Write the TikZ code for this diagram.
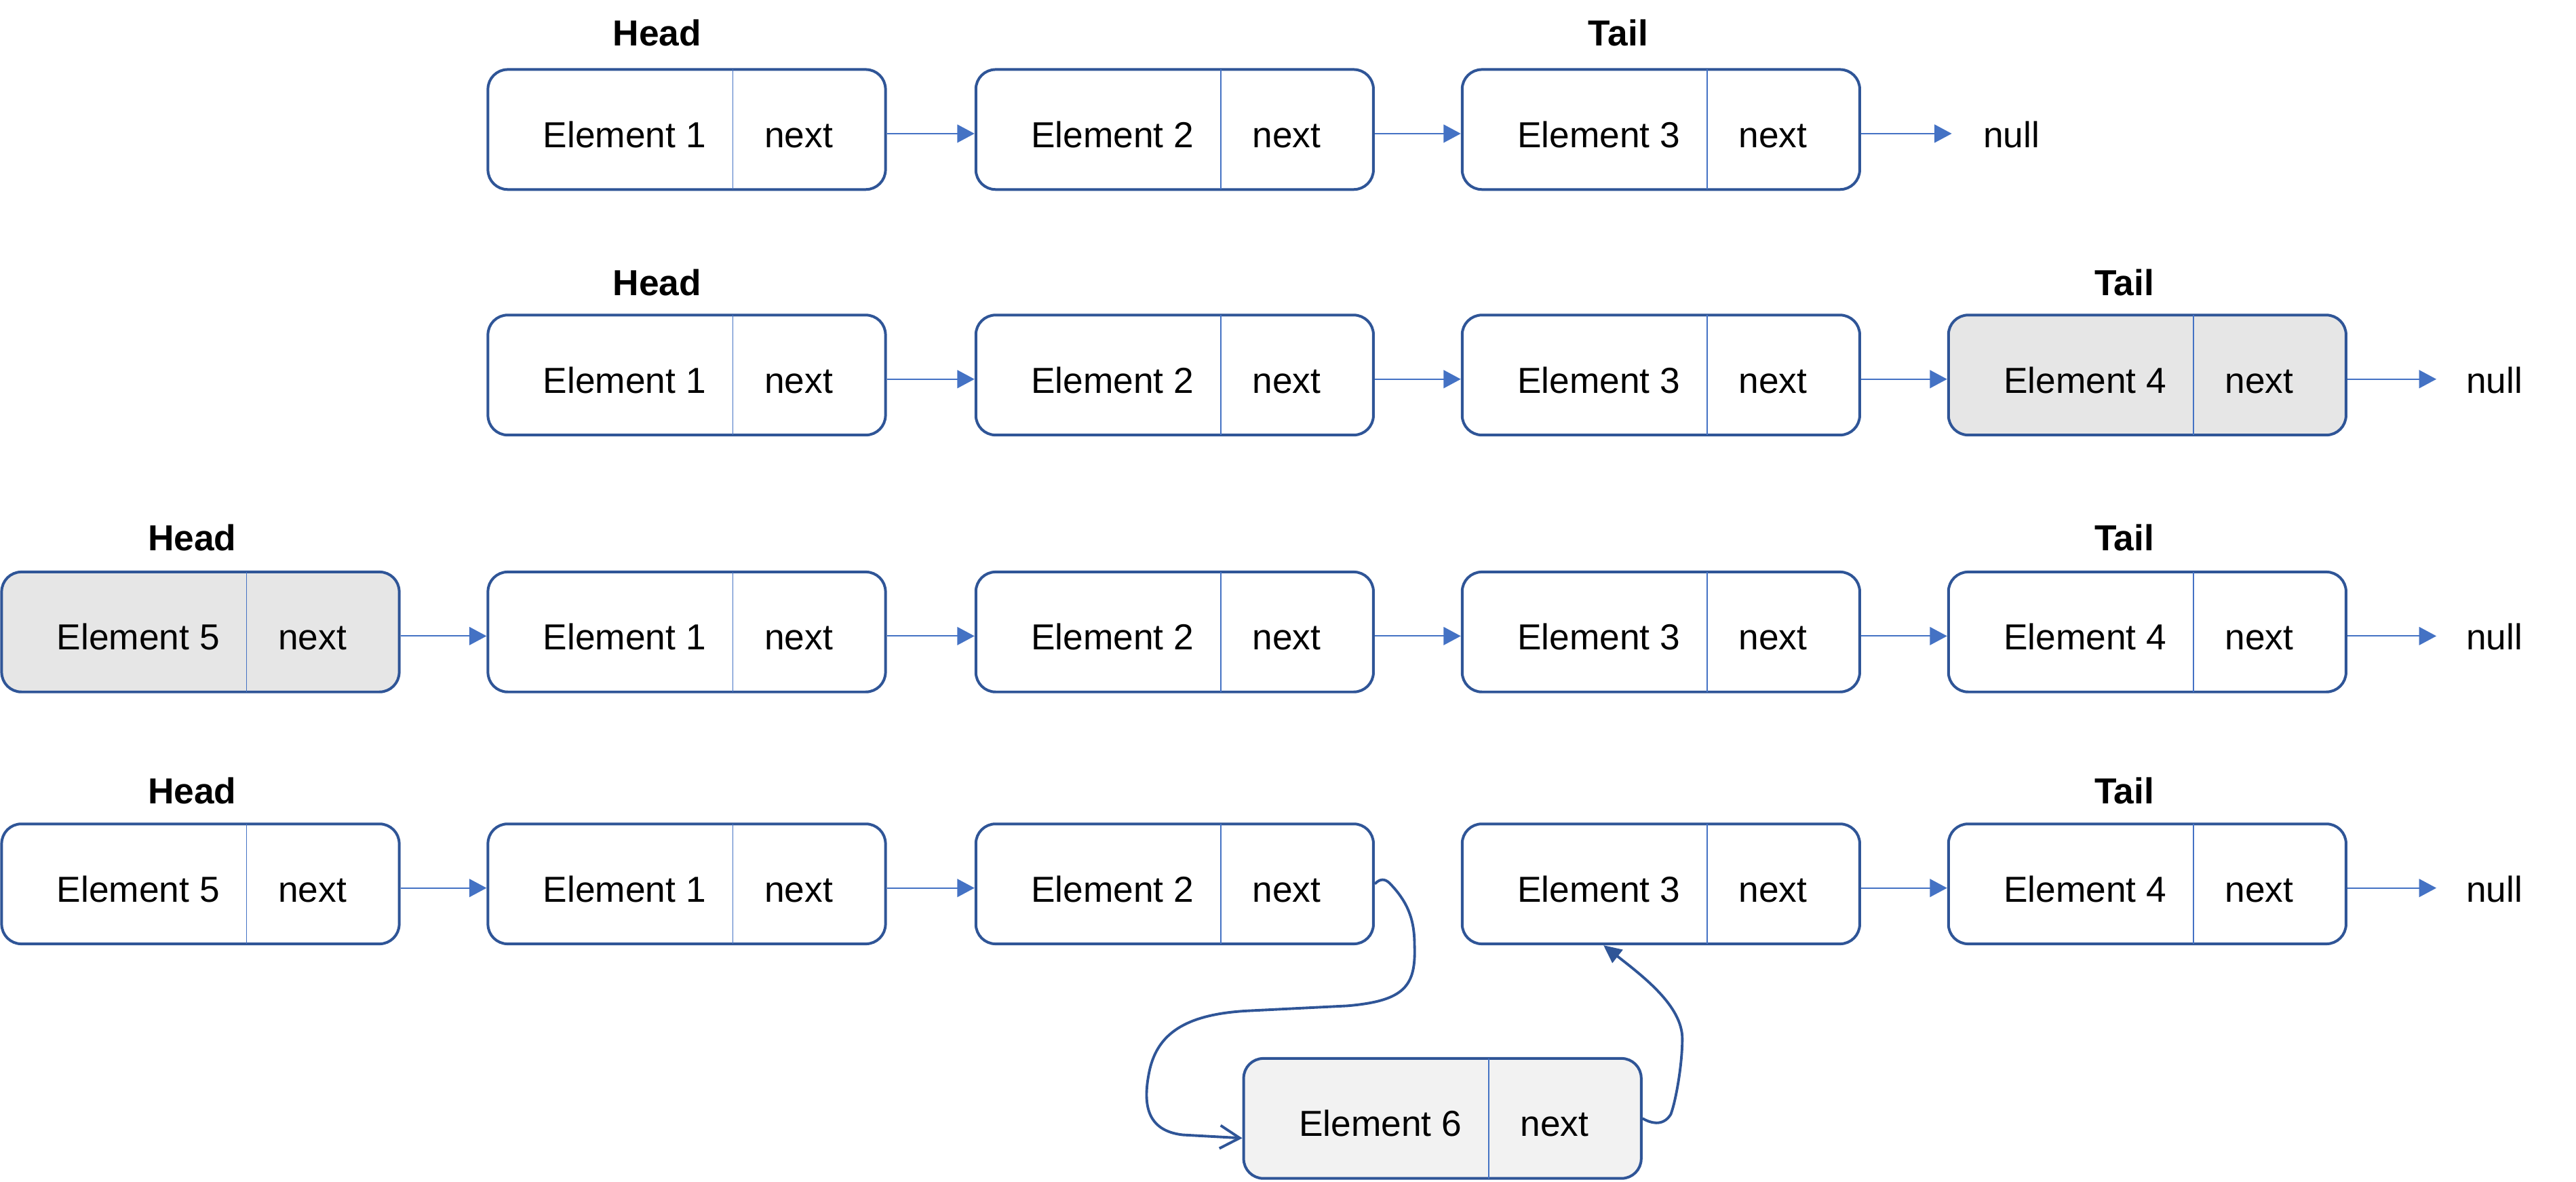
\documentclass[tikz,border=0pt]{standalone}
\usepackage{fontspec}
\setmainfont{Liberation Sans}
\usetikzlibrary{arrows.meta}
\definecolor{bordercol}{HTML}{2F5597}
\definecolor{linkcol}{HTML}{4472C4}
\definecolor{grayfill}{HTML}{E6E6E6}
\definecolor{lightfill}{HTML}{F2F2F2}
\tikzset{
  elembox/.style={draw=bordercol, line width=1.65pt, rounded corners=12pt, minimum width=242pt, minimum height=73pt, inner sep=0pt, fill=white},
  divider/.style={draw=linkcol, line width=0.6pt, shorten <=0.8pt, shorten >=0.8pt},
  txt/.style={font=\fontsize{22}{26}\selectfont, inner sep=0pt, anchor=base},
  lbl/.style={font=\fontsize{22}{26}\selectfont\bfseries, inner sep=0pt},
  link/.style={draw=linkcol, line width=0.9pt, -{Triangle[length=10.5pt,width=11pt]}},
  curvelink/.style={draw=bordercol, line width=1.6pt},
}
\newcommand\mkelem[5]{%
  \node[elembox, fill=#5] (#1) at (#2,#3) {};
  \draw[divider] ([xshift=150pt]#1.north west) -- ([xshift=150pt]#1.south west);
  \node[txt] (#1t) at ([xshift=84pt,yshift=-11pt]#1.west) {#4};
  \node[txt] (#1n) at ([xshift=190pt,yshift=-11pt]#1.west) {next};
}
\newcommand\lnk[2]{\draw[link] ([yshift=-2.5pt]#1.east) -- ([yshift=-2.5pt]#2.west);}
\newcommand\lnknull[2]{\draw[link] ([yshift=-2.5pt]#1.east) -- ([yshift=-2.5pt]#1.east -| #2.west);}
\begin{document}
\begin{tikzpicture}[x=1pt, y=-1pt]
\useasboundingbox (0,0) rectangle (1568,719);
% row 1
\mkelem{a1}{418}{78.8}{Element 1}{white}
\mkelem{a2}{715}{78.8}{Element 2}{white}
\mkelem{a3}{1011}{78.8}{Element 3}{white}
\node[txt, anchor=base west, inner xsep=19pt] (anull) at (1188,89.8) {null};
\node[lbl] (aH) at (400,20) {Head};
\node[lbl] (aT) at (985,20) {Tail};
\lnk{a1}{a2}
\lnk{a2}{a3}
\lnknull{a3}{anull}
% row 2
\mkelem{b1}{418}{228.2}{Element 1}{white}
\mkelem{b2}{715}{228.2}{Element 2}{white}
\mkelem{b3}{1011}{228.2}{Element 3}{white}
\mkelem{b4}{1307}{228.2}{Element 4}{grayfill}
\node[txt, anchor=base west, inner xsep=18pt] (bnull) at (1483,239.2) {null};
\node[lbl] (bH) at (400,172) {Head};
\node[lbl] (bT) at (1293,172) {Tail};
\lnk{b1}{b2}
\lnk{b2}{b3}
\lnk{b3}{b4}
\lnknull{b4}{bnull}
% row 3
\mkelem{c5}{122}{384.5}{Element 5}{grayfill}
\mkelem{c1}{418}{384.5}{Element 1}{white}
\mkelem{c2}{715}{384.5}{Element 2}{white}
\mkelem{c3}{1011}{384.5}{Element 3}{white}
\mkelem{c4}{1307}{384.5}{Element 4}{white}
\node[txt, anchor=base west, inner xsep=18pt] (cnull) at (1483,395.5) {null};
\node[lbl] (cH) at (117,327) {Head};
\node[lbl] (cT) at (1293,327) {Tail};
\lnk{c5}{c1}
\lnk{c1}{c2}
\lnk{c2}{c3}
\lnk{c3}{c4}
\lnknull{c4}{cnull}
% row 4
\mkelem{d5}{122}{537.8}{Element 5}{white}
\mkelem{d1}{418}{537.8}{Element 1}{white}
\mkelem{d2}{715}{537.8}{Element 2}{white}
\mkelem{d3}{1011}{537.8}{Element 3}{white}
\mkelem{d4}{1307}{537.8}{Element 4}{white}
\node[txt, anchor=base west, inner xsep=18pt] (dnull) at (1483,548.8) {null};
\node[lbl] (dH) at (117,481) {Head};
\node[lbl] (dT) at (1293,481) {Tail};
\lnk{d5}{d1}
\lnk{d1}{d2}
\lnk{d3}{d4}
\lnknull{d4}{dnull}
% inserted element
\mkelem{e6}{878}{680.5}{Element 6}{lightfill}
\draw[curvelink, -{Straight Barb[length=12pt,width=14pt]}] (d2.east)
  .. controls (840,534.5) and (843,534.5) .. (846,537.5)
  .. controls (856,548) and (861,558) .. (861,575)
  .. controls (862,600) and (855,609) .. (820,612)
  -- (760,615)
  .. controls (720,617) and (705,630) .. (700,650)
  .. controls (695,672) and (698,688) .. (720,690.5)
  -- ([yshift=-12pt]e6.west);
\draw[curvelink, -{Triangle[length=11pt,width=10pt]}] (e6.east)
  .. controls (1004,683) and (1012,686) .. (1017,678)
  .. controls (1020,670) and (1024,648) .. (1024,632)
  .. controls (1024,612) and (1000,594) .. ([xshift=-35pt]d3.south);
\end{tikzpicture}
\end{document}
